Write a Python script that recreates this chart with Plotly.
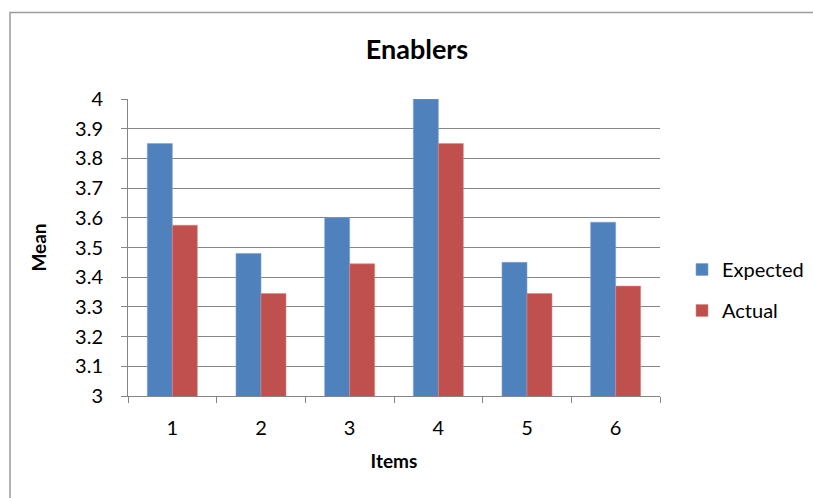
import plotly.graph_objects as go

# Mean scores per item
items = ["1", "2", "3", "4", "5", "6"]
expected = [3.85, 3.48, 3.60, 4.00, 3.45, 3.585]
actual = [3.575, 3.345, 3.445, 3.85, 3.345, 3.37]

BLUE = "#4F81BD"
RED = "#C0504D"
GRID = "#868686"
FONT = "Lato, Calibri, 'Noto Sans', sans-serif"

fig = go.Figure()
fig.add_trace(go.Bar(x=items, y=expected, name="Expected", marker_color=BLUE,
                     marker_line=dict(color="#7FA3D1", width=0.6), legendgroup="a"))
fig.add_trace(go.Bar(x=items, y=actual, name="Actual", marker_color=RED,
                     marker_line=dict(color="#D98986", width=0.6), legendgroup="b"))

L, R, T, B = 128, 153, 99, 102
W, H = 813, 498
pw, ph = W - L - R, H - T - B

def px_x(x):
    return (x - L) / pw

def px_y(y):
    return (H - B - y) / ph

fig.update_layout(
    width=W, height=H,
    margin=dict(l=L, r=R, t=T, b=B, autoexpand=False),
    paper_bgcolor="white", plot_bgcolor="white",
    barmode="group", bargap=0.436, bargroupgap=0,
    font=dict(family=FONT, color="#000000", size=19),
    title=dict(text="<b>Enablers</b>", x=417 / W, xref="container",
               xanchor="center", y=1 - 50 / H, yanchor="middle",
               font=dict(size=27, family=FONT, color="#000000")),
    legend=dict(x=px_x(682), y=px_y(250), xanchor="left", yanchor="top",
                font=dict(size=20, family=FONT), traceorder="grouped",
                tracegroupgap=12, bgcolor="rgba(0,0,0,0)"),
    xaxis=dict(
        title=dict(text="<b>Items</b>", font=dict(size=19, family=FONT), standoff=16),
        showline=True, linecolor=GRID, linewidth=1,
        ticks="outside", tickson="boundaries", ticklen=6, tickcolor=GRID,
        tickfont=dict(size=20), ticklabelstandoff=14, showgrid=False,
    ),
    yaxis=dict(
        title=dict(text="<b>Mean</b>", font=dict(size=19, family=FONT), standoff=23),
        range=[3, 4], dtick=0.1, tick0=3,
        showline=True, linecolor=GRID, linewidth=1,
        ticks="outside", ticklen=6, tickcolor=GRID,
        showgrid=True, gridcolor=GRID, gridwidth=1,
        tickfont=dict(size=20), ticklabelstandoff=14, zeroline=False,
    ),
    shapes=[dict(type="rect", xref="paper", yref="paper",
                 x0=px_x(10), x1=px_x(830), y0=px_y(520), y1=px_y(12.5),
                 line=dict(color="#9A9A9A", width=1.5), fillcolor="rgba(0,0,0,0)",
                 layer="below")],
)

fig.write_html("out.html")
